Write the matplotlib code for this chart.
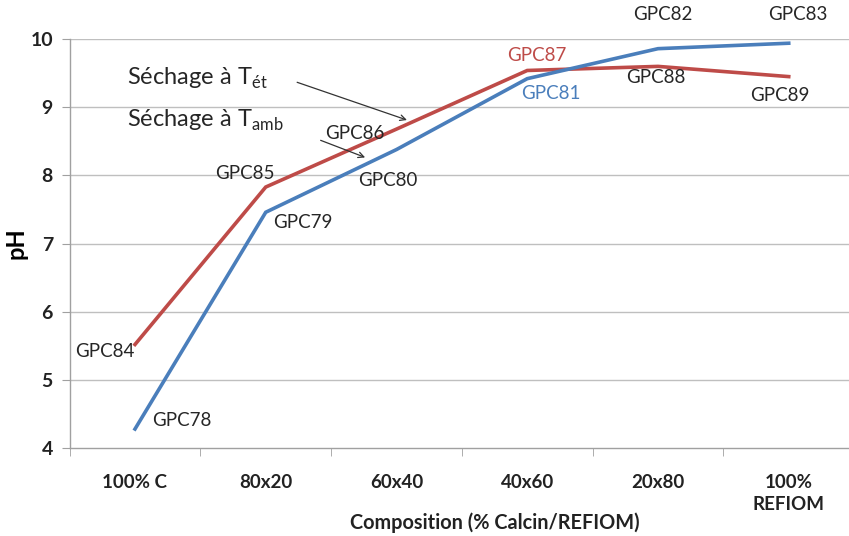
import matplotlib
matplotlib.use("Agg")
import matplotlib.pyplot as plt
import numpy as np

plt.rcParams['font.family'] = ['Lato', 'DejaVu Sans']

categories = ['100% C', '80x20', '60x40', '40x60', '20x80', '100%\nREFIOM']
ph_amb = [4.28, 7.46, 8.38, 9.42, 9.86, 9.94]   # blue, séchage à T amb
ph_ete = [5.52, 7.83, 8.68, 9.54, 9.60, 9.45]   # red, séchage à T été

labels_amb = ['GPC78', 'GPC79', 'GPC80', 'GPC81', 'GPC82', 'GPC83']
labels_ete = ['GPC84', 'GPC85', 'GPC86', 'GPC87', 'GPC88', 'GPC89']
# label positions (data coords)
pos_amb = [(0.36, 4.40), (1.28, 7.31), (1.93, 7.93), (3.18, 9.20), (4.04, 10.36), (5.07, 10.36)]
pos_ete = [(-0.23, 5.41), (0.84, 8.03), (1.68, 8.62), (3.07, 9.76), (3.98, 9.43), (4.93, 9.18)]

blue = '#4A7EBB'
red = '#BE4B48'
grid_col = '#BFBFBF'

fig = plt.figure(figsize=(8.49, 5.36), dpi=100)
ax = fig.add_axes([0.082, 0.164, 0.924, 0.763])
x = np.arange(len(categories))

ax.plot(x, ph_ete, color=red, lw=2.6, solid_joinstyle='miter', zorder=3)
ax.plot(x, ph_amb, color=blue, lw=2.6, solid_joinstyle='miter', zorder=3)

ax.set_xlim(-0.5, 5.5)
ax.set_ylim(4, 10)
ax.set_yticks(range(4, 11))
for yv in range(5, 11):
    ax.axhline(yv, color=grid_col, lw=1, zorder=1)

for s in ['top', 'right']:
    ax.spines[s].set_visible(False)
for s in ['left', 'bottom']:
    ax.spines[s].set_color('#A0A0A0')
    ax.spines[s].set_linewidth(1)

ax.set_xticks(x)
ax.set_xticklabels(categories, fontsize=13.5, fontweight='bold', color='#222222', va='top',
                   linespacing=1.35)
ax.tick_params(axis='x', length=0, pad=19)
ax.set_xticks(np.arange(-0.5, 6.0, 1.0), minor=True)
ax.tick_params(axis='x', which='minor', length=6, color='#A0A0A0', direction='out')
ax.tick_params(axis='y', length=6, color='#A0A0A0', direction='out', pad=6, labelsize=14)
for t in ax.get_yticklabels():
    t.set_fontweight('bold')
    t.set_color('#222222')

ax.set_ylabel('pH', fontsize=17, fontweight='bold', labelpad=2)
fig.text(495 / 849, 1 - 523 / 536, 'Composition (% Calcin/REFIOM)', ha='center', va='center',
         fontsize=14.3, fontweight='bold', color='#222222')

for lab, (px, py) in zip(labels_amb, pos_amb):
    c = blue if lab == 'GPC81' else '#262626'
    ax.text(px, py, lab, ha='center', va='center', fontsize=13.5, color=c, zorder=4)
for lab, (px, py) in zip(labels_ete, pos_ete):
    c = red if lab == 'GPC87' else '#262626'
    ax.text(px, py, lab, ha='center', va='center', fontsize=13.5, color=c, zorder=4)

ax.text(-0.06, 9.43, r'Séchage à T$_{\mathregular{ét}}$', ha='left', va='center',
        fontsize=17, color='#262626')
ax.text(-0.06, 8.81, r'Séchage à T$_{\mathregular{amb}}$', ha='left', va='center',
        fontsize=17, color='#262626')
ax.annotate('', xy=(2.10, 8.80), xytext=(1.22, 9.38),
            arrowprops=dict(arrowstyle='->', color='#333333', lw=0.9))
ax.annotate('', xy=(1.78, 8.25), xytext=(1.40, 8.53),
            arrowprops=dict(arrowstyle='->', color='#333333', lw=0.9))

fig.savefig('out.png', dpi=100)
